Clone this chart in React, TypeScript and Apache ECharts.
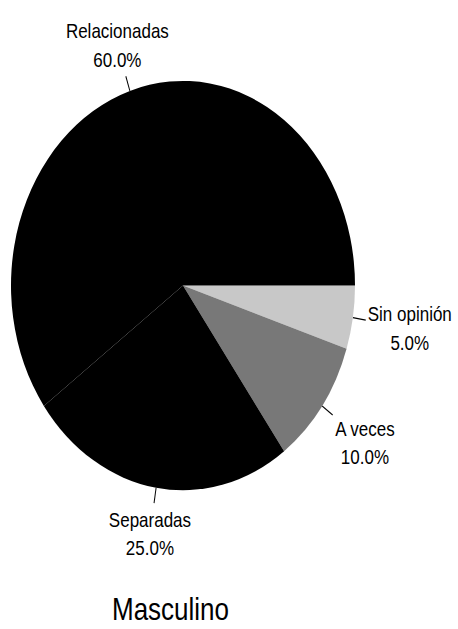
import React, { useEffect, useRef } from "react";
import * as echarts from "echarts";

const categories = ["Sin opinión", "A veces", "Separadas", "Relacionadas"];
const values = [5, 10, 25, 60];
const sliceColors = ["#c8c8c8", "#787878", "#000000", "#000000"];
const chartTitle = "Masculino";

const STRETCH = 1.19;
const W = 458;
const H = 629;
const FONT = "'Liberation Sans', Arial, sans-serif";

export default function App() {
  const ref = useRef<HTMLDivElement | null>(null);

  useEffect(() => {
    if (!ref.current) return;
    const chart = echarts.init(ref.current, undefined, { renderer: "svg" });
    const gap = 2;
    chart.setOption({
      animation: false,
      backgroundColor: "#ffffff",
      title: {
        text: chartTitle,
        left: 107,
        top: 494,
        textStyle: { fontFamily: FONT, fontSize: 26, fontWeight: "normal", color: "#000" },
      },
      series: [
        {
          type: "pie",
          center: [183, 240],
          radius: [0, 172],
          startAngle: 0,
          clockwise: true,
          avoidLabelOverlap: false,
          itemStyle: { borderWidth: 0 },
          label: {
            show: true,
            position: "outside",
            fontFamily: FONT,
            fontSize: 17,
            lineHeight: 24,
            color: "#000",
            align: "center",
            formatter: (p: any) => `${p.name}\n${p.percent.toFixed(1)}%`,
          },
          labelLine: {
            show: true,
            length: 13,
            length2: 0,
            smooth: false,
            lineStyle: { color: "#000", width: 1 },
          },
          labelLayout: (p: any) => {
            const pts = p.labelLinePoints;
            if (!pts) return {};
            const a = pts[0];
            const e = pts[pts.length - 1];
            let dx = e[0] - a[0];
            let dy = e[1] - a[1];
            const len = Math.hypot(dx, dy) || 1;
            dx /= len;
            dy /= len;
            const hw = p.labelRect.width / 2 + gap;
            const hh = p.labelRect.height / 2 + gap;
            const tx = Math.abs(dx) > 1e-6 ? hw / Math.abs(dx) : Infinity;
            const ty = Math.abs(dy) > 1e-6 ? hh / Math.abs(dy) : Infinity;
            const t = Math.min(tx, ty);
            return {
              x: e[0] + dx * t,
              y: e[1] + dy * t,
              align: "center",
              verticalAlign: "middle",
              labelLinePoints: pts,
            };
          },
          data: categories.map((name, i) => ({
            name,
            value: values[i],
            itemStyle: { color: sliceColors[i] },
          })),
        },
      ],
    });
    return () => chart.dispose();
  }, []);

  return (
    <div
      style={{
        position: "absolute",
        left: 0,
        top: 0,
        width: W,
        height: H,
        overflow: "hidden",
        background: "#fff",
      }}
    >
      <div
        ref={ref}
        style={{
          width: W,
          height: Math.round(H / STRETCH),
          transform: `scaleY(${STRETCH})`,
          transformOrigin: "0 0",
        }}
      />
    </div>
  );
}
